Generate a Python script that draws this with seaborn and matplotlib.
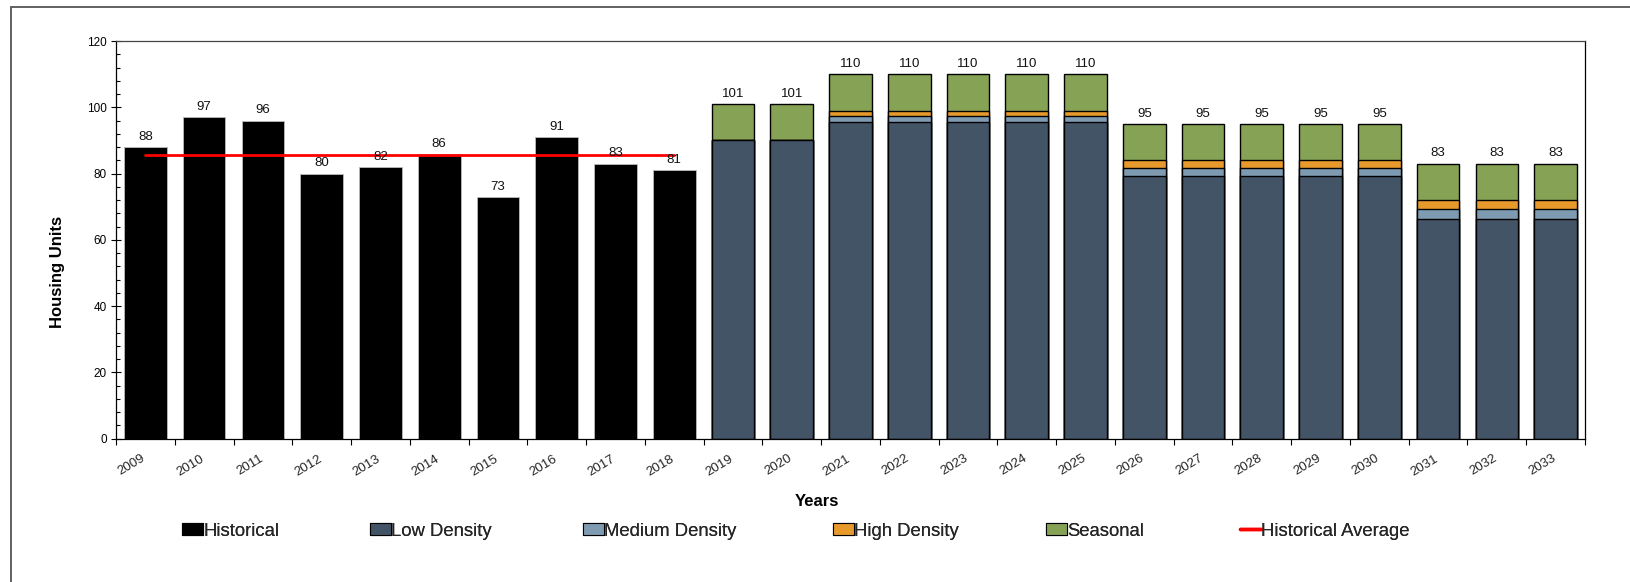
import numpy as np
import pandas as pd
import matplotlib
matplotlib.use("Agg")
import matplotlib.pyplot as plt
import matplotlib.transforms as mtransforms
from matplotlib.patches import Patch, Rectangle
from matplotlib.lines import Line2D
from matplotlib.ticker import MultipleLocator, FixedLocator
import seaborn as sns

# ---- data -------------------------------------------------------------
years = [str(y) for y in range(2009, 2034)]

hist_years = ["2009", "2010", "2011", "2012", "2013", "2014", "2015", "2016", "2017", "2018"]
historical = [88, 97, 96, 80, 82, 86, 73, 91, 83, 81]

proj_years = ["2019", "2020", "2021", "2022", "2023", "2024", "2025",
              "2026", "2027", "2028", "2029", "2030", "2031", "2032", "2033"]
low_density = [90, 90, 95.6, 95.6, 95.6, 95.6, 95.6,
               79.3, 79.3, 79.3, 79.3, 79.3, 66.3, 66.3, 66.3]
medium_density = [0, 0, 1.9, 1.9, 1.9, 1.9, 1.9,
                  2.5, 2.5, 2.5, 2.5, 2.5, 3.0, 3.0, 3.0]
high_density = [0, 0, 1.5, 1.5, 1.5, 1.5, 1.5,
                2.4, 2.4, 2.4, 2.4, 2.4, 2.7, 2.7, 2.7]
seasonal = [11, 11, 11, 11, 11, 11, 11,
            10.8, 10.8, 10.8, 10.8, 10.8, 11, 11, 11]

series_names = ["Historical", "Low Density", "Medium Density", "High Density",
                "Seasonal", "Historical Average"]

# ---- style ------------------------------------------------------------
sns.set_theme(style="white")
plt.rcParams["font.family"] = ["Liberation Sans", "DejaVu Sans"]

C_HIST = "#000000"
C_LOW = "#425466"
C_MED = "#7f9bb2"
C_HIGH = "#e8992c"
C_SEAS = "#86a355"
C_AVG = "#ff0000"

W, H = 1631, 582
fig = plt.figure(figsize=(W / 100, H / 100), dpi=100)
ax = fig.add_axes([116 / W, 1 - 438.7 / H, (1585 - 116) / W, (438.7 - 41) / H])

# outer chart frame
fig.add_artist(Rectangle((11 / W, -0.1), 1.2, (1 - 6.5 / H) + 0.1,
                         transform=fig.transFigure, fill=False,
                         edgecolor="#555555", linewidth=1.3))

bar_w = 0.727

# historical bars
hist_df = pd.DataFrame({"year": hist_years, "units": historical})
sns.barplot(data=hist_df, x="year", y="units", order=years, color=C_HIST,
            width=bar_w, edgecolor="#bbbbbb", linewidth=0.6, saturation=1,
            errorbar=None, ax=ax)

# projected stacked bars, drawn from the cumulative top down
low = np.array(low_density)
med = np.array(medium_density)
high = np.array(high_density)
seas = np.array(seasonal)
layers = [
    (low + med + high + seas, C_SEAS),
    (low + med + high, C_HIGH),
    (low + med, C_MED),
    (low, C_LOW),
]
for cum, col in layers:
    df = pd.DataFrame({"year": proj_years, "units": cum})
    sns.barplot(data=df, x="year", y="units", order=years, color=col,
                width=bar_w, edgecolor="black", linewidth=1.0, saturation=1,
                errorbar=None, ax=ax)

# historical average line
avg = float(np.mean(historical))
ax.plot([years.index(hist_years[0]), years.index(hist_years[-1])], [avg, avg],
        color=C_AVG, linewidth=2.0, zorder=5)

# value labels
totals = dict(zip(hist_years, historical))
totals.update(dict(zip(proj_years, low + med + high + seas)))
for yr, tot in totals.items():
    ax.annotate(f"{tot:.0f}", (years.index(yr), tot), xytext=(0, 3),
                textcoords="offset points", ha="center", va="bottom",
                fontsize=9.5, color="#111111", zorder=6)

# axes
ax.set_xlim(-0.5, len(years) - 0.5)
ax.set_ylim(0, 120)
ax.yaxis.set_major_locator(MultipleLocator(20))
ax.yaxis.set_minor_locator(MultipleLocator(4))
ax.tick_params(axis="y", which="major", direction="inout", length=7, width=0.8,
               labelsize=8.5, pad=3, colors="black", left=True)
ax.tick_params(axis="y", which="minor", direction="in", length=3, width=0.8,
               left=True, colors="black")

ax.set_xticks(range(len(years)))
ax.set_xticklabels(years)
ax.xaxis.set_minor_locator(FixedLocator(np.arange(-0.5, len(years), 1.0)))
ax.tick_params(axis="x", which="major", length=0, labelsize=9.5, pad=10,
               bottom=True)
ax.tick_params(axis="x", which="minor", direction="out", length=4, width=0.8,
               bottom=True, colors="black")
shift = mtransforms.ScaledTranslation(-4 / 100, 0, fig.dpi_scale_trans)
for lbl in ax.get_xticklabels():
    lbl.set_rotation(31)
    lbl.set_ha("right")
    lbl.set_va("top")
    lbl.set_rotation_mode("anchor")
    lbl.set_transform(lbl.get_transform() + shift)

for s in ax.spines.values():
    s.set_visible(True)
    s.set_color("black")
    s.set_linewidth(0.9)
ax.spines["top"].set_color("#444444")

ax.set_ylabel("Housing Units", fontsize=12, fontweight="bold", color="black",
              va="center")
ax.yaxis.set_label_coords(-0.040, 0.42)
ax.set_xlabel("Years", fontsize=12, fontweight="bold", color="black")
ax.xaxis.set_label_coords(0.477, -0.157)
ax.xaxis.label.set_va("center")

# legend, one evenly spaced entry per series
handles = [
    Patch(facecolor=C_HIST, edgecolor="black", linewidth=0.8),
    Patch(facecolor=C_LOW, edgecolor="black", linewidth=0.8),
    Patch(facecolor=C_MED, edgecolor="black", linewidth=0.8),
    Patch(facecolor=C_HIGH, edgecolor="black", linewidth=0.8),
    Patch(facecolor=C_SEAS, edgecolor="black", linewidth=0.8),
    Line2D([0], [0], color=C_AVG, linewidth=2.5),
]
legend_x = [182, 370, 583, 833, 1046, 1240]
for h, name, lx in zip(handles, series_names, legend_x):
    leg = fig.legend([h], [name], loc="center left",
                     bbox_to_anchor=(lx / W, 1 - 531 / H),
                     frameon=False, fontsize=13.3, handlelength=1.15,
                     handleheight=0.6, handletextpad=0.0, borderpad=0,
                     borderaxespad=0)
    fig.add_artist(leg)

fig.savefig("out.png", dpi=100)
